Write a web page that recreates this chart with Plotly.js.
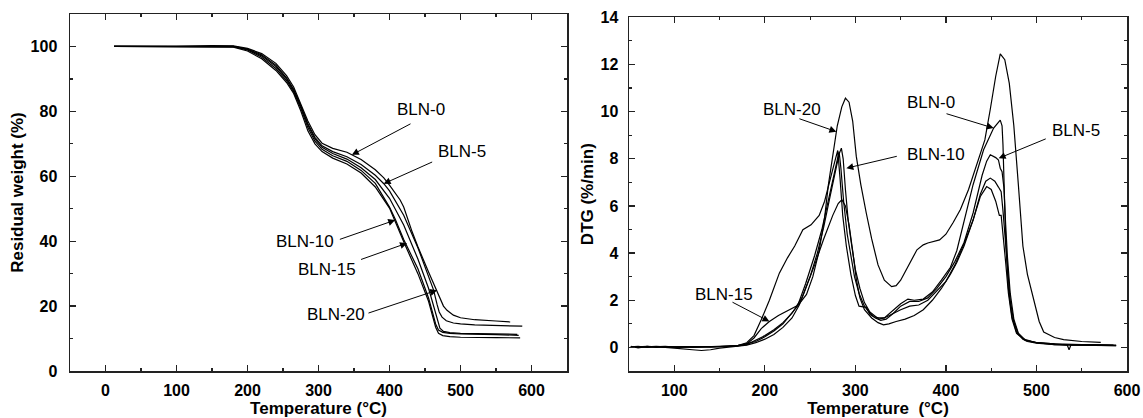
<!DOCTYPE html>
<html>
<head>
<meta charset="utf-8">
<script src="https://cdn.plot.ly/plotly-3.0.1.min.js"></script>
<style>html,body{margin:0;padding:0;background:#fff;}#chart{width:1143px;height:418px;}</style>
</head>
<body>
<div id="chart"></div>
<script>
// ---------- TGA (left panel): Residual weight (%) vs Temperature (°C) ----------
const tga0T = [12, 50, 100, 150, 180, 200, 220, 240, 255, 265, 275, 285, 295, 305, 320, 340, 360, 380, 392, 400, 415, 420, 432, 440, 455, 462, 467, 472, 476, 481, 490, 500, 520, 550, 570];
const tga0W = [100, 100, 100, 100.3, 100.2, 99.4, 97.8, 94.8, 91, 87.5, 82.5, 77, 72.8, 70.2, 68.6, 67.4, 65.2, 62, 59.5, 57.3, 52.7, 50.5, 42.8, 38.3, 30.5, 27, 24.8, 22.2, 20, 18.7, 17.2, 16.4, 15.8, 15.4, 15.1];

const tga5T = [12, 50, 100, 150, 180, 200, 220, 240, 255, 265, 275, 285, 295, 305, 320, 340, 360, 380, 392, 400, 420, 440, 455, 462, 467, 470, 474, 480, 490, 500, 520, 550, 587];
const tga5W = [100, 100, 100, 100.2, 100, 99.2, 97.4, 94.2, 90.3, 86.8, 81.8, 76.2, 72, 69.4, 67.6, 66, 63.6, 60.3, 57.7, 55.5, 48, 38, 29.5, 25, 20.5, 18.2, 16.6, 15.5, 14.8, 14.5, 14.2, 14, 13.8];

const tga10T = [12, 50, 100, 150, 180, 200, 220, 240, 255, 265, 275, 285, 295, 305, 320, 340, 360, 380, 400, 408, 420, 440, 455, 460, 465, 469, 475, 485, 500, 550, 582];
const tga10W = [100, 100, 100, 100.1, 99.9, 98.9, 96.7, 93.2, 89.5, 86, 81, 75, 70.8, 68.3, 66.3, 64.6, 61.8, 57.8, 50.5, 46.8, 40.5, 31.5, 22.5, 18.5, 14.5, 12.6, 11.9, 11.6, 11.4, 11.2, 11.0];

const tga15T = [12, 50, 100, 150, 180, 200, 220, 240, 255, 265, 275, 285, 295, 305, 320, 340, 360, 380, 400, 422, 440, 455, 460, 465, 469, 475, 485, 500, 550, 584];
const tga15W = [100, 100, 100, 100, 99.8, 98.6, 96.2, 92.6, 88.9, 85.5, 80.2, 74, 70, 67.6, 65.6, 63.8, 61, 56.7, 50.2, 38.8, 30, 21.5, 17.5, 13.5, 11.6, 10.9, 10.6, 10.4, 10.3, 10.2];

const tga20T = [12, 50, 100, 150, 180, 200, 220, 240, 255, 265, 275, 285, 295, 305, 320, 340, 360, 380, 400, 420, 440, 455, 462, 467, 471, 476, 485, 500, 550, 580];
const tga20W = [100, 100, 100, 100.1, 100, 99.1, 97.1, 93.8, 90, 86.5, 81.5, 75.8, 71.5, 68.9, 67, 65.3, 62.6, 59, 53.2, 45, 34.5, 25.5, 20, 15.5, 13.2, 12.2, 11.8, 11.6, 11.4, 11.3];

// ---------- DTG (right panel): DTG (%/min) vs Temperature (°C) ----------
const dtgAT = [52, 60, 70, 80, 90, 100, 110, 120, 130, 140, 150, 160, 170, 180, 190, 200, 210, 220, 230, 238, 246, 253, 260, 266, 270, 275, 280, 285, 289, 293, 297, 301, 306, 312, 318, 325, 332, 340, 345, 350, 355, 360, 368, 375, 380, 393, 400, 408, 416, 425, 434, 443, 449, 455, 460, 465, 470, 475, 480, 485, 490, 497, 503, 508, 520, 530, 550, 571];
const dtgA  = [0.05, -0.02, 0.04, 0.0, 0.03, 0.02, 0.0, 0.01, 0.02, 0.02, 0.03, 0.05, 0.08, 0.15, 0.25, 0.45, 0.7, 1.0, 1.45, 1.85, 2.25, 3.0, 4.1, 5.5, 6.85, 8.2, 9.4, 10.2, 10.57, 10.4, 9.6, 8.1, 6.9, 5.7, 4.6, 3.5, 2.85, 2.58, 2.62, 2.85, 3.2, 3.6, 4.14, 4.35, 4.43, 4.56, 4.8, 5.3, 5.85, 6.7, 7.8, 8.8, 10.1, 11.5, 12.45, 12.2, 11.2, 9.4, 6.9, 4.3, 3.1, 2.0, 1.1, 0.65, 0.42, 0.33, 0.25, 0.21];

const dtgBT = [52, 60, 70, 80, 90, 100, 110, 120, 130, 140, 150, 160, 170, 180, 188, 196, 205, 215, 225, 235, 241, 250, 258, 265, 272, 278, 282, 284.5, 286.5, 289, 292, 296, 300, 305, 310, 316, 322, 326, 332, 340, 350, 358, 365, 375, 385, 395, 405, 412, 420, 430, 441.6, 452.7, 460, 462, 463, 464.5, 466, 469, 473, 478, 485, 490, 500, 520, 540, 560, 588];
const dtgB  = [0.02, 0.05, 0.0, 0.03, 0.01, 0.03, 0.02, 0.0, 0.02, 0.03, 0.04, 0.05, 0.08, 0.15, 0.4, 0.8, 1.1, 1.35, 1.55, 1.75, 2.1, 3.0, 4.0, 5.1, 6.4, 7.5, 8.2, 8.45, 8.0, 6.7, 5.4, 4.3, 3.3, 2.5, 1.9, 1.5, 1.3, 1.2, 1.25, 1.5, 1.85, 2.05, 2.0, 2.05, 2.35, 2.85, 3.4, 4.1, 5.3, 6.9, 8.38, 9.3, 9.64, 9.4, 8.6, 6.7, 4.6, 2.5, 1.3, 0.65, 0.35, 0.25, 0.18, 0.12, 0.1, 0.1, 0.08];

const dtgCT = [52, 60, 70, 80, 90, 100, 110, 120, 130, 140, 150, 160, 170, 180, 190, 200, 210, 220, 230, 237, 245, 255, 263, 270, 276, 280, 282, 284, 287, 291, 295, 299, 304, 310, 316, 322, 328, 334, 342, 350, 360, 370, 380, 390, 400, 410, 420, 430, 440, 445, 449, 455, 458, 460, 462, 464, 466, 468, 471, 475, 480, 488, 500, 520, 550, 588];
const dtgC  = [0.03, 0.0, 0.02, 0.04, 0.02, 0.0, 0.03, 0.02, 0.01, 0.03, 0.03, 0.04, 0.06, 0.12, 0.3, 0.5, 0.75, 1.05, 1.45, 1.85, 2.7, 3.9, 5.0, 6.2, 7.3, 8.0, 8.3, 7.6, 6.2, 4.8, 3.8, 3.0, 2.3, 1.75, 1.45, 1.25, 1.15, 1.2, 1.45, 1.75, 1.95, 1.95, 2.1, 2.5, 3.0, 3.65, 4.45, 5.7, 7.3, 7.9, 8.17, 8.05, 7.95, 7.6, 7.45, 6.8, 5.2, 3.8, 2.3, 1.2, 0.6, 0.3, 0.2, 0.15, 0.12, 0.1];

const dtgDT = [52, 60, 70, 80, 90, 100, 110, 120, 130, 140, 150, 160, 170, 180, 190, 200, 210, 220, 230, 238, 245, 255, 265, 275, 281, 285, 289, 293, 297, 301, 305, 310, 318, 325, 331, 337, 345, 355, 365, 375, 385, 395, 405, 412, 420, 430, 438, 444, 449, 454, 458, 461, 463, 465, 468, 471, 475, 480, 488, 500, 520, 534, 536, 538, 560, 585];
const dtgD  = [0.04, 0.02, 0.05, 0.01, 0.0, -0.03, -0.08, -0.1, -0.13, -0.1, -0.03, 0.01, 0.04, 0.1, 0.2, 0.35, 0.55, 0.85, 1.25, 1.8, 2.5, 3.5, 4.6, 5.6, 6.1, 6.26, 6.0, 5.2, 4.1, 2.9, 2.1, 1.6, 1.25, 1.05, 0.96, 1.0, 1.1, 1.2, 1.35, 1.6, 2.0, 2.5, 3.1, 3.6, 4.3, 5.4, 6.5, 7.05, 7.18, 7.05, 6.8, 6.6, 5.8, 4.8, 3.2, 2.0, 1.1, 0.55, 0.3, 0.2, 0.15, 0.1, -0.1, 0.1, 0.12, 0.1];

const dtgET = [52, 60, 70, 80, 90, 100, 110, 120, 130, 140, 150, 160, 170, 180, 188, 196, 205, 216, 225, 233, 242, 251, 260, 266, 270, 274, 278, 280.5, 283, 286, 290, 295, 300, 304, 312, 316, 320, 326, 332, 340, 350, 360, 370, 380, 390, 400, 410, 420, 430, 438, 445, 450, 455, 459, 461, 463, 466, 469, 473, 478, 486, 500, 520, 540, 560, 588];
const dtgE  = [0.0, 0.03, 0.01, 0.02, 0.04, 0.01, 0.0, 0.02, 0.03, 0.01, 0.03, 0.04, 0.08, 0.2, 0.5, 1.17, 2.0, 3.15, 3.8, 4.3, 4.99, 5.2, 5.6, 6.2, 6.85, 7.4, 8.0, 8.35, 7.2, 5.6, 4.3, 3.1, 2.2, 1.75, 1.7, 1.4, 1.3, 1.25, 1.25, 1.4, 1.6, 1.75, 1.8, 2.0, 2.4, 2.8, 3.5, 4.4, 5.4, 6.4, 6.82, 6.7, 6.2, 5.6, 5.6, 4.9, 3.6, 2.3, 1.2, 0.6, 0.35, 0.2, 0.12, 0.1, 0.1, 0.08];

// ---------- Labels ----------
const leftLabels  = ['BLN-0', 'BLN-5', 'BLN-10', 'BLN-15', 'BLN-20'];
const leftLabelX  = [445, 502.6, 281, 311.8, 324];
const leftLabelY  = [80.5, 67.7, 40, 31.4, 17.5];
const leftTailX   = [431.7, 462.2, 328, 357.8, 368.3];
const leftTailY   = [76.4, 64.6, 40.4, 34.2, 17.7];
const leftTipX    = [347, 391.7, 408, 424.7, 467];
const leftTipY    = [66.6, 57.7, 46.5, 39.4, 24.9];

const rightLabels = ['BLN-20', 'BLN-10', 'BLN-0', 'BLN-5', 'BLN-15'];
const rightLabelX = [230, 388.9, 383.4, 543.2, 155.2];
const rightLabelY = [10.1, 8.17, 10.39, 9.19, 2.23];
const rightTailX  = [236.5, 347.4, 399, 511.9, 162.6];
const rightTailY  = [9.72, 8.12, 9.93, 8.87, 1.95];
const rightTipX   = [279, 290, 452.7, 458.2, 205.1];
const rightTipY   = [9.15, 7.6, 9.3, 8.02, 1.1];

const FONT = 'Liberation Sans, Arial, Helvetica, sans-serif';
const lineStyle = {color: '#000', width: 1.2};

function tr(x, y, name, xa, ya) {
  return {x: x, y: y, name: name, type: 'scatter', mode: 'lines', line: lineStyle,
          xaxis: xa, yaxis: ya, showlegend: false, hoverinfo: 'skip'};
}

const data = [
  tr(tga0T, tga0W, 'BLN-0', 'x', 'y'),
  tr(tga5T, tga5W, 'BLN-5', 'x', 'y'),
  tr(tga10T, tga10W, 'BLN-10', 'x', 'y'),
  tr(tga15T, tga15W, 'BLN-15', 'x', 'y'),
  tr(tga20T, tga20W, 'BLN-20', 'x', 'y'),
  tr(dtgAT, dtgA, 'BLN-20', 'x2', 'y2'),
  tr(dtgBT, dtgB, 'BLN-0', 'x2', 'y2'),
  tr(dtgCT, dtgC, 'BLN-5', 'x2', 'y2'),
  tr(dtgDT, dtgD, 'BLN-15', 'x2', 'y2'),
  tr(dtgET, dtgE, 'BLN-10', 'x2', 'y2')
];

const annotations = [];
function addLabels(labels, lx, ly, tx, ty, px, py, xr, yr) {
  for (let i = 0; i < labels.length; i++) {
    annotations.push({x: lx[i], y: ly[i], xref: xr, yref: yr, text: labels[i], showarrow: false,
      font: {family: FONT, size: 17, color: '#000'}, xanchor: 'center', yanchor: 'middle'});
    annotations.push({x: px[i], y: py[i], xref: xr, yref: yr, ax: tx[i], ay: ty[i], axref: xr, ayref: yr,
      text: '', showarrow: true, arrowhead: 2, arrowsize: 1.4, arrowwidth: 1, arrowcolor: '#000', standoff: 0});
  }
}
addLabels(leftLabels, leftLabelX, leftLabelY, leftTailX, leftTailY, leftTipX, leftTipY, 'x', 'y');
addLabels(rightLabels, rightLabelX, rightLabelY, rightTailX, rightTailY, rightTipX, rightTipY, 'x2', 'y2');

function axis(extra) {
  return Object.assign({
    showgrid: false, zeroline: false, showline: true, linecolor: '#222', linewidth: 1.5,
    mirror: 'ticks', ticks: 'inside', ticklen: 6, tickwidth: 1.2, tickcolor: '#222',
    tickfont: {family: FONT, size: 16, color: '#000', weight: 'bold'},
    automargin: false, fixedrange: true
  }, extra);
}
const titleFont = {family: FONT, size: 17, color: '#000', weight: 'bold'};

const layout = {
  width: 1143, height: 418,
  margin: {l: 70, r: 16, t: 14, b: 47},
  paper_bgcolor: '#fff', plot_bgcolor: '#fff',
  showlegend: false,
  xaxis: axis({domain: [0, 0.4702], anchor: 'y', range: [-50, 650], dtick: 100, tick0: 0,
    minor: {dtick: 50, ticks: 'inside', ticklen: 3, tickcolor: '#222'}, ticklabelstandoff: 4,
    title: {text: 'Temperature (°C)', font: titleFont, standoff: 4}}),
  yaxis: axis({domain: [0, 1], anchor: 'x', range: [0, 110], dtick: 20, tick0: 0,
    minor: {dtick: 10, ticks: 'inside', ticklen: 3, tickcolor: '#222'}, ticklabelstandoff: 8,
    title: {text: 'Residual weight (%)', font: titleFont, standoff: 2}}),
  xaxis2: axis({domain: [0.5289, 1], anchor: 'y2', range: [50, 600], dtick: 100, tick0: 0,
    minor: {dtick: 50, ticks: 'inside', ticklen: 3, tickcolor: '#222'}, ticklabelstandoff: 4,
    title: {text: 'Temperature\u00a0 (°C)', font: titleFont, standoff: 4}}),
  yaxis2: axis({domain: [0, 0.9908], anchor: 'x2', range: [-1, 14], dtick: 2, tick0: 0,
    minor: {dtick: 1, ticks: 'inside', ticklen: 3, tickcolor: '#222'}, ticklabelstandoff: 6,
    title: {text: 'DTG (%/min)', font: titleFont, standoff: 2}}),
  annotations: annotations
};

Plotly.newPlot('chart', data, layout, {displayModeBar: false, staticPlot: true});
</script>
</body>
</html>
